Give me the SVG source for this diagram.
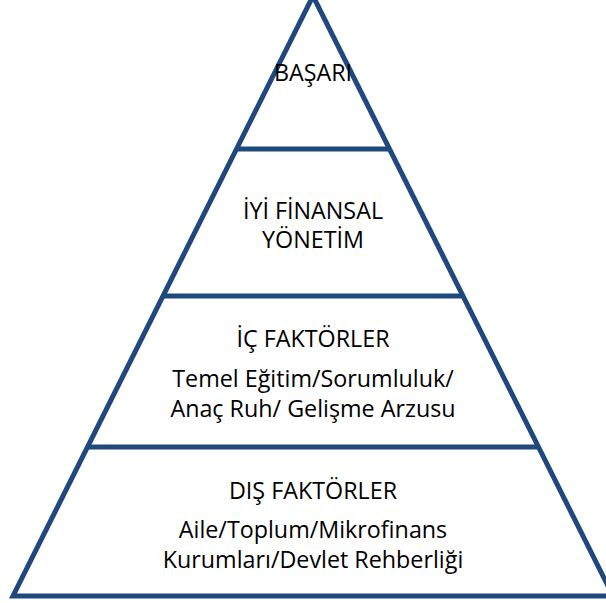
<svg xmlns="http://www.w3.org/2000/svg" width="606" height="603" viewBox="0 0 606 603">
  <style>
    .edge { fill: none; stroke: #1F497D; stroke-width: 5; stroke-linejoin: miter; }
    .lbl { font-family: "Open Sans", "Noto Sans", "Liberation Sans", sans-serif; font-size: 23.3px; fill: #000000; text-anchor: middle; }
  </style>
  <rect x="0" y="0" width="606" height="603" fill="#ffffff"/>
  <g id="pyramid-outline">
    <polygon class="edge" points="313,-4 613,596 13,596"/>
  </g>
  <g id="connectors">
    <line class="edge" x1="236.5" y1="149" x2="389.5" y2="149"/>
    <line class="edge" x1="164" y1="296" x2="462" y2="296"/>
    <line class="edge" x1="87.5" y1="447" x2="538.5" y2="447"/>
  </g>
  <g id="tier-basari">
    <text class="lbl" x="313" y="81">BAŞARI</text>
  </g>
  <g id="tier-finansal">
    <text class="lbl" x="313" y="219">İYİ FİNANSAL</text>
    <text class="lbl" x="313" y="248">YÖNETİM</text>
  </g>
  <g id="tier-ic">
    <text class="lbl" x="313" y="347">İÇ FAKTÖRLER</text>
    <text class="lbl" x="313" y="387">Temel Eğitim/Sorumluluk/</text>
    <text class="lbl" x="313" y="417">Anaç Ruh/ Gelişme Arzusu</text>
  </g>
  <g id="tier-dis">
    <text class="lbl" x="313" y="499">DIŞ FAKTÖRLER</text>
    <text class="lbl" x="313" y="538">Aile/Toplum/Mikrofinans</text>
    <text class="lbl" x="313" y="568">Kurumları/Devlet Rehberliği</text>
  </g>
</svg>
